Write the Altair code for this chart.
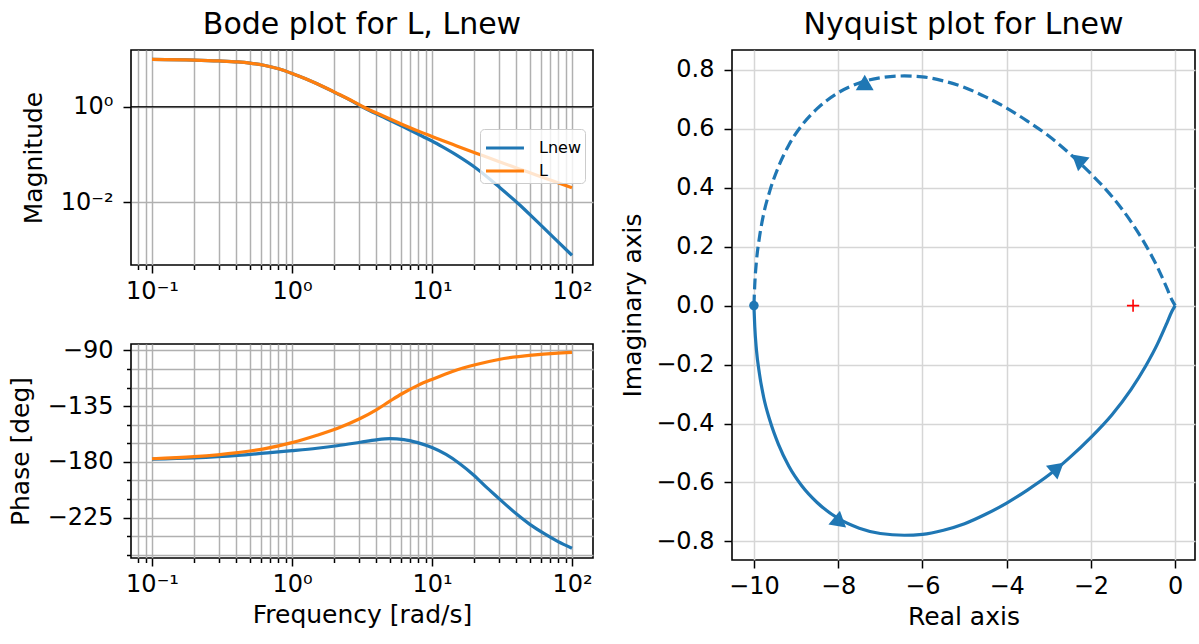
import altair as alt
import pandas as pd

# ---------------- values ----------------
# Bode magnitude (frequency in rad/s, magnitude as absolute value)
mag_freq = [0.1, 0.2, 0.3, 0.41, 0.5, 0.63, 0.8, 1.0, 1.25, 1.51,
            2.1, 2.6, 3.24, 4.49, 6.2, 8.6, 10, 12, 15, 20.9,
            30.6, 42, 56, 75, 100]
mag_L = [9.89, 9.55, 9.16, 8.71, 8.22, 7.41, 6.27, 5.01, 3.87, 3.03,
         1.91, 1.40, 0.989, 0.638, 0.421, 0.283, 0.238, 0.193, 0.151, 0.105,
         0.0693, 0.0497, 0.0366, 0.0269, 0.0199]
mag_Lnew = [9.89, 9.55, 9.16, 8.71, 8.22, 7.41, 6.27, 5.01, 3.87, 3.03,
            1.89, 1.38, 0.964, 0.608, 0.384, 0.238, 0.191, 0.142, 0.0964, 0.0501,
            0.0200, 0.00891, 0.00398, 0.00174, 0.000766]

# Bode phase (deg)
phase_freq_L = [0.1, 0.2, 0.41, 0.63, 1.0, 1.51, 2.1, 3.07, 4.0, 5.0,
                6.1, 8.0, 10.2, 14, 20.7, 30, 52, 75, 100]
phase_L = [-177.5, -175.8, -172.5, -169.5, -164.5, -158.5, -153, -145, -138, -131,
           -125, -118, -113, -107, -101.4, -97.3, -93.8, -92.3, -91.6]
phase_freq_Lnew = [0.1, 0.2, 0.41, 0.63, 1.0, 1.51, 2.1, 3.07, 4.0, 5.0,
                   6.3, 7.9, 10, 12.6, 15.8, 20, 25, 30, 40, 50,
                   63, 79, 100]
phase_Lnew = [-177.8, -176.8, -174.8, -173, -171, -169, -167, -164.2, -162.2, -161.3,
              -162, -164.5, -168.5, -174, -181.5, -191, -201.5, -209.5, -222, -230.5,
              -237.8, -244.2, -249.8]

# Nyquist curve of Lnew: positive frequencies (solid) and negative ones (dashed)
nyq_re_solid = [-10, -9.98, -9.94, -9.87, -9.77, -9.62, -9.42, -9.17, -8.86, -8.5,
                -8.0, -7.5, -7.0, -6.43, -6.0, -5.5, -5.0, -4.5, -4.0, -3.5,
                -3.0, -2.5, -2.0, -1.5, -1.05, -0.7, -0.42, -0.2, -0.08, 0.0]
nyq_im_solid = [0, -0.07, -0.15, -0.23, -0.31, -0.39, -0.47, -0.545, -0.612, -0.668,
                -0.722, -0.755, -0.773, -0.779, -0.776, -0.762, -0.740, -0.708, -0.670, -0.625,
                -0.575, -0.515, -0.447, -0.370, -0.285, -0.205, -0.13, -0.06, -0.02, 0.0]
nyq_re_dash = [-10, -9.98, -9.94, -9.87, -9.77, -9.62, -9.42, -9.17, -8.86, -8.5,
               -8.0, -7.5, -7.0, -6.43, -6.0, -5.5, -5.0, -4.5, -4.0, -3.5,
               -3.0, -2.5, -2.0, -1.5, -1.05, -0.7, -0.42, -0.2, -0.08, 0.0]
nyq_im_dash = [0, 0.07, 0.15, 0.23, 0.31, 0.39, 0.47, 0.545, 0.612, 0.668,
               0.722, 0.755, 0.773, 0.779, 0.776, 0.762, 0.740, 0.708, 0.670, 0.625,
               0.575, 0.515, 0.447, 0.370, 0.285, 0.205, 0.13, 0.06, 0.02, 0.0]
arrow_re = [-7.99, -2.79, -7.37, -2.31]
arrow_im = [-0.722, -0.55, 0.757, 0.496]
arrow_dir = [10, 50, 0, 310]
start_re = [-10.0]
start_im = [0.0]
crit_re = [-1.0]
crit_im = [0.0]

# tick values
freq_major = [0.1, 1, 10, 100]
freq_minor = [0.08, 0.09, 0.2, 0.3, 0.4, 0.5, 0.6, 0.7, 0.8, 0.9,
              2, 3, 4, 5, 6, 7, 8, 9, 20, 30, 40, 50, 60, 70, 80, 90]
freq_ticks = sorted(freq_major + freq_minor)
mag_ticks = [0.01, 1]
phase_ticks = list(range(-255, -89, 15))
nyq_x_ticks = [-10, -8, -6, -4, -2, 0]
nyq_y_ticks = [-0.8, -0.6, -0.4, -0.2, 0.0, 0.2, 0.4, 0.6, 0.8]

# ---------------- styling ----------------
FONT = "DejaVu Sans"
BLUE = "#1f77b4"
ORANGE = "#ff7f0e"
TICK_FS = 24
TITLE_FS = 25
HEAD_FS = 30
LW = 3.2
YPAD = 10

mag_df = pd.DataFrame({
    "freq": mag_freq + mag_freq,
    "mag": mag_Lnew + mag_L,
    "sys": ["Lnew"] * len(mag_freq) + ["L"] * len(mag_freq),
})
phase_df = pd.DataFrame({
    "freq": phase_freq_Lnew + phase_freq_L,
    "phase": phase_Lnew + phase_L,
    "sys": ["Lnew"] * len(phase_freq_Lnew) + ["L"] * len(phase_freq_L),
})
solid_df = pd.DataFrame({"re": nyq_re_solid, "im": nyq_im_solid, "i": list(range(len(nyq_re_solid)))})
dash_df = pd.DataFrame({"re": nyq_re_dash, "im": nyq_im_dash, "i": list(range(len(nyq_re_dash)))})
arrow_df = pd.DataFrame({"re": arrow_re, "im": arrow_im, "ang": arrow_dir})
start_df = pd.DataFrame({"re": start_re, "im": start_im})
crit_df = pd.DataFrame({"re": crit_re, "im": crit_im})
unity_df = pd.DataFrame({"mag": [1.0]})

LOG_X_LABEL = ("datum.value == 0.1 ? '10⁻¹' : datum.value == 1 ? '10⁰' : "
               "datum.value == 10 ? '10¹' : datum.value == 100 ? '10²' : ''")
MAJOR_X = "indexof([0.1, 1, 10, 100], datum.value) >= 0"


def freq_axis(title):
    return alt.Axis(
        values=freq_ticks, labelExpr=LOG_X_LABEL, title=title,
        grid=True, gridColor="#b0b0b0", gridWidth=1.5, domain=False,
        tickColor="black", tickWidth=1.5,
        tickSize={"condition": {"test": MAJOR_X, "value": 8}, "value": 4.5},
        labelFontSize=TICK_FS, labelPadding=6, labelFlush=False,
        titleFontSize=TITLE_FS, titlePadding=6,
    )


freq_scale = alt.Scale(type="log", domain=[0.0708, 141.3], nice=False)

# ---------------- magnitude ----------------
mag_y_axis = alt.Axis(
    values=mag_ticks,
    labelExpr="datum.value == 1 ? '10⁰' : '10⁻²'",
    title="Magnitude", grid=True, gridColor="#b0b0b0", gridWidth=1.5, domain=False,
    tickColor="black", tickWidth=1.5, tickSize=8,
    labelFontSize=TICK_FS, labelPadding=YPAD, titleFontSize=TITLE_FS, titlePadding=14,
)
mag_scale = alt.Scale(type="log", domain=[0.000479, 15.5], nice=False)
color_scale = alt.Scale(domain=["Lnew", "L"], range=[BLUE, ORANGE])
legend = alt.Legend(
    title=None, orient="none", legendX=349, legendY=79,
    symbolType="M-1,0L1.92,0", symbolSize=676, symbolStrokeWidth=LW,
    labelFont=FONT, labelFontSize=16, labelColor="black",
    fillColor="rgba(255,255,255,0.8)", strokeColor="#cccccc", cornerRadius=4,
    padding=4, rowPadding=0, labelOffset=25,
)

mag_base = alt.Chart(mag_df).encode(
    x=alt.X("freq:Q", scale=freq_scale, axis=freq_axis(None)),
    y=alt.Y("mag:Q", scale=mag_scale, axis=mag_y_axis),
    color=alt.Color("sys:N", scale=color_scale, legend=legend),
)
mag_lnew = mag_base.transform_filter("datum.sys == 'Lnew'").mark_line(
    strokeWidth=LW, interpolate="monotone")
mag_l = mag_base.transform_filter("datum.sys == 'L'").mark_line(
    strokeWidth=LW, interpolate="monotone")
unity = alt.Chart(unity_df).mark_rule(color="black", strokeWidth=1.3, opacity=0.85).encode(
    y=alt.Y("mag:Q", scale=mag_scale, axis=mag_y_axis))

mag_chart = alt.layer(unity, mag_lnew, mag_l).properties(
    width=462, height=215,
    title=alt.TitleParams("Bode plot for L, Lnew", fontSize=HEAD_FS, font=FONT,
                          fontWeight="normal", offset=10),
)

# ---------------- phase ----------------
phase_y_axis = alt.Axis(
    values=phase_ticks,
    labelExpr="datum.value % 45 == 0 ? datum.label : ''",
    title="Phase [deg]", grid=True, gridColor="#b0b0b0", gridWidth=1.5, domain=False,
    tickColor="black", tickWidth=1.5,
    tickSize={"condition": {"test": "datum.value % 45 == 0", "value": 8}, "value": 4.5},
    labelFontSize=TICK_FS, labelPadding=YPAD, titleFontSize=TITLE_FS, titlePadding=14,
)
phase_scale = alt.Scale(domain=[-257.7, -84.8], nice=False, zero=False)
phase_base = alt.Chart(phase_df).encode(
    x=alt.X("freq:Q", scale=freq_scale, axis=freq_axis("Frequency [rad/s]")),
    y=alt.Y("phase:Q", scale=phase_scale, axis=phase_y_axis),
)
ph_lnew = phase_base.transform_filter("datum.sys == 'Lnew'").mark_line(
    strokeWidth=LW, color=BLUE, interpolate="monotone")
ph_l = phase_base.transform_filter("datum.sys == 'L'").mark_line(
    strokeWidth=LW, color=ORANGE, interpolate="monotone")
phase_chart = alt.layer(ph_lnew, ph_l).properties(width=462, height=214)

# ---------------- Nyquist ----------------
nx_axis = alt.Axis(
    values=nyq_x_ticks, format="d", title="Real axis",
    grid=True, gridColor="#d6d6d6", gridWidth=1.5, domain=False,
    tickColor="black", tickWidth=1.5, tickSize=8,
    labelFontSize=TICK_FS, labelPadding=6, titleFontSize=TITLE_FS, titlePadding=6,
)
ny_axis = alt.Axis(
    values=nyq_y_ticks, format=".1f", title="Imaginary axis",
    grid=True, gridColor="#d6d6d6", gridWidth=1.5, domain=False,
    tickColor="black", tickWidth=1.5, tickSize=8,
    labelFontSize=TICK_FS, labelPadding=YPAD, titleFontSize=TITLE_FS, titlePadding=10,
)
nx_scale = alt.Scale(domain=[-10.52, 0.47], nice=False, zero=False)
ny_scale = alt.Scale(domain=[-0.863, 0.867], nice=False, zero=False)


def nenc(ch):
    return ch.encode(
        x=alt.X("re:Q", scale=nx_scale, axis=nx_axis),
        y=alt.Y("im:Q", scale=ny_scale, axis=ny_axis),
    )


nyq_solid = nenc(alt.Chart(solid_df).mark_line(
    color=BLUE, strokeWidth=LW, interpolate="monotone")).encode(order="i:Q")
nyq_dash = nenc(alt.Chart(dash_df).mark_line(
    color=BLUE, strokeWidth=LW, strokeDash=[11, 5], interpolate="monotone")).encode(order="i:Q")
nyq_arrows = nenc(alt.Chart(arrow_df).mark_point(
    shape="triangle-up", filled=True, size=320, color=BLUE, opacity=1)).encode(
    angle=alt.Angle("ang:Q", scale=None))
nyq_start = nenc(alt.Chart(start_df).mark_point(
    shape="circle", filled=True, size=90, color=BLUE, opacity=1))
nyq_crit = nenc(alt.Chart(crit_df).mark_point(
    shape="M-1,0L1,0M0,-1L0,1", filled=False, size=150, color="red",
    strokeWidth=1.6, opacity=1))

nyq_chart = alt.layer(nyq_dash, nyq_solid, nyq_arrows, nyq_start, nyq_crit).properties(
    width=463, height=510,
    title=alt.TitleParams("Nyquist plot for Lnew", fontSize=HEAD_FS, font=FONT,
                          fontWeight="normal", offset=10),
)

left = alt.vconcat(mag_chart, phase_chart, spacing=33)
chart = alt.hconcat(left, nyq_chart, spacing=24).properties(
    padding={"left": 7, "top": 9, "right": 2, "bottom": 4},
    background="white",
).configure_view(
    stroke="black", strokeWidth=1.6,
).configure_axis(
    labelFont=FONT, titleFont=FONT, labelColor="black", titleColor="black",
    titleFontWeight="normal",
).configure_title(
    font=FONT, color="black", anchor="middle",
)

chart.save("out.html", embed_options={"renderer": "svg", "actions": False})
